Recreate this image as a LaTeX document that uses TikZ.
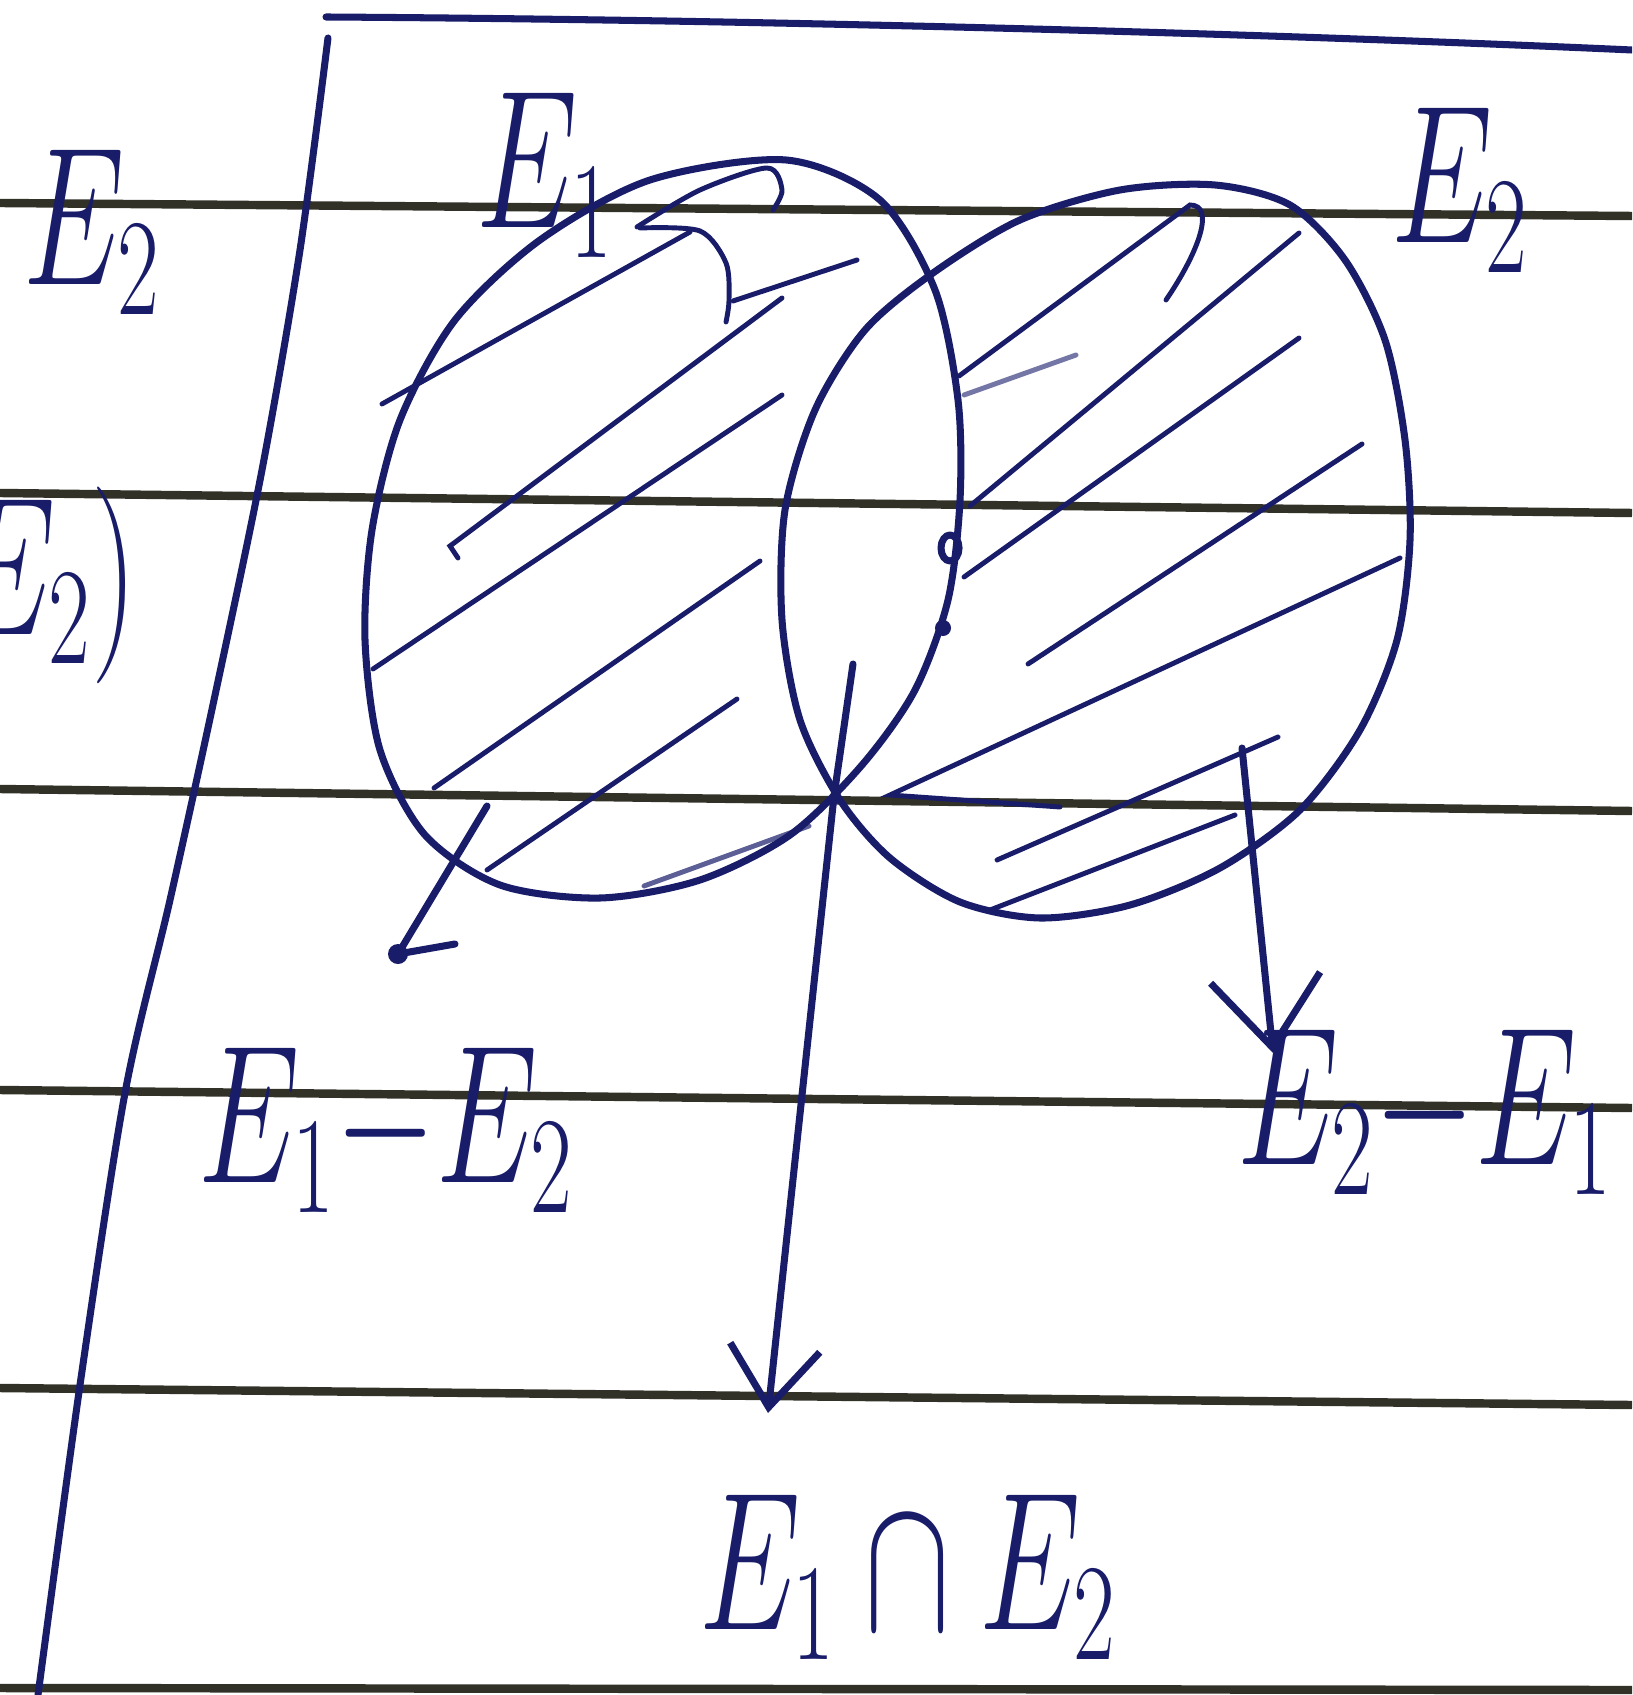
\documentclass[tikz,border=0pt]{standalone}
\usepackage{fix-cm}
\usepackage{amsmath}
\usepackage{graphicx}
\usepackage{xcolor}
\usepackage{tikz}
\usetikzlibrary{arrows.meta,calc}
\definecolor{ink}{RGB}{24,28,105}
\definecolor{ruling}{RGB}{50,49,40}
\tikzstyle{pen} = [draw=ink, line width=2pt, line cap=round, line join=round]
\tikzstyle{hatch} = [draw=ink, line width=1.4pt, line cap=round]
\tikzstyle{ruled} = [draw=ruling, line width=2.4pt]
\tikzstyle{arrow} = [pen, -{Straight Barb[length=6mm,width=9mm]}]
\tikzstyle{lbl} = [text=ink, inner sep=0pt, font=\fontsize{40}{44}\selectfont]
\newcommand{\hand}[1]{\scalebox{0.92}[1.4]{$#1$}}

\begin{document}
\begin{tikzpicture}[x=0.01cm, y=-0.01cm]
    \useasboundingbox (0,0) rectangle (1632,1695);
    \clip (0,0) rectangle (1632,1695);
    \fill[white] (0,0) rectangle (1632,1695);
    % ruled paper
    \draw[ruled] (0,203) -- (1632,216);
    \draw[ruled] (0,493) -- (1632,513);
    \draw[ruled] (0,789) -- (1632,811);
    \draw[ruled] (0,1090) -- (1632,1108);
    \draw[ruled] (0,1388) -- (1632,1405);
    \draw[ruled] (0,1688) -- (1632,1690);
    % margin
    \draw[pen] (326,17) .. controls (800,20) and (1300,35) .. (1632,50);
    \draw[pen] plot[smooth] coordinates {(328,38) (300,250) (262,470) (214,700) (170,900) (125,1093) (80,1385) (38,1695)};
    % the two events
    \draw[pen] plot[smooth cycle] coordinates {(786,160) (880,200) (935,290) (958,400) (960,500) (948,600) (915,690) (862,765) (790,835) (700,880) (600,898) (500,885) (425,835) (380,750) (365,640) (372,530) (400,420) (455,320) (540,240) (650,180)};
    \draw[pen] plot[smooth cycle] coordinates {(933,273) (1020,220) (1120,190) (1215,185) (1290,205) (1345,260) (1385,340) (1405,440) (1410,540) (1397,640) (1360,730) (1300,810) (1220,868) (1130,905) (1040,918) (960,902) (890,858) (840,800) (800,720) (782,620) (785,510) (815,410) (865,330)};
    \draw[pen] (950,548) circle[x radius=0.9mm, y radius=1.3mm];
    \fill[ink] (943,628) circle[radius=0.8mm];
    % shading of E1
    \draw[hatch] (382,404) -- (690,232);
    \draw[hatch] plot[smooth] coordinates {(637,227) (700,190) (767,168) (782,190) (773,210)};
    \draw[hatch] plot[smooth] coordinates {(640,228) (700,231) (726,263) (729,300) (726,322)};
    \draw[hatch] (733,301) -- (857,260);
    \draw[hatch] (458,558) -- (450,546) -- (782,298);
    \draw[hatch] (373,669) -- (782,395);
    \draw[hatch] (434,788) -- (760,561);
    \draw[hatch] (487,870) -- (737,699);
    \draw[hatch, opacity=0.7] (644,886) -- (809,826);
    % shading of E2
    \draw[hatch] (959,376) -- (1190,205) .. controls (1215,205) and (1200,250) .. (1166,300);
    \draw[hatch, opacity=0.6] (964,395) -- (1076,355);
    \draw[hatch] (970,506) -- (1299,233);
    \draw[hatch] (964,577) -- (1299,338);
    \draw[hatch] (1028,664) -- (1362,444);
    \draw[hatch] (1060,807) -- (890,795) -- (1400,558);
    \draw[hatch] (997,860) -- (1278,737);
    \draw[hatch] (990,910) -- (1235,815);
    % labels
    \node[lbl] (eone) at (545,175) {\hand{E_1}};
    \node[lbl] (etwo) at (1460,190) {\hand{E_2}};
    \node[lbl] (cutE) at (92,232) {\hand{E_2}};
    \node[lbl, anchor=east] (cutP) at (138,585) {\hand{E_2)}};
    \node[lbl] (diffA) at (386,1130) {\hand{E_1{-}E_2}};
    \node[lbl] (diffB) at (1425,1112) {\hand{E_2{-}E_1}};
    \node[lbl] (inter) at (908,1577) {\hand{E_1\cap E_2}};
    % pointers
    \coordinate (capA) at (853,664);
    \coordinate (capB) at (834,796);
    \coordinate (capC) at (768,1413);
    \coordinate (difA) at (487,806);
    \coordinate (difB) at (398,954);
    \coordinate (difC) at (455,944);
    \coordinate (dfbA) at (1242,748);
    \coordinate (dfbB) at (1273,1053);
    \draw[arrow] (capA) -- (capB) -- (capC);
    \draw[pen] (difA) -- (difB) -- (difC);
    \fill[ink] (difB) circle[radius=1mm];
    \draw[pen, -{Straight Barb[length=7mm,width=11mm]}] (dfbA) -- (dfbB);
\end{tikzpicture}
\end{document}
